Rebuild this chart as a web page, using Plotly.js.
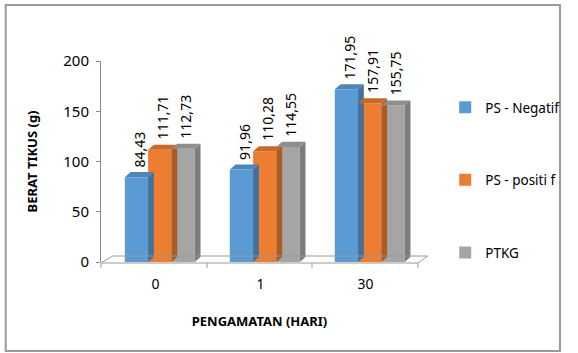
<!DOCTYPE html>
<html><head><meta charset="utf-8">
<script src="https://cdn.plot.ly/plotly-3.0.1.min.js"></script>
<style>html,body{margin:0;padding:0;background:#fff}#c{width:578px;height:353px}</style>
</head><body><div id="c"></div>
<script>
const categories = ['0', '1', '30'];
const seriesNames = ['PS - Negatif', 'PS - positi f', 'PTKG'];
const psNegatif = [84.43, 91.96, 171.95];
const psPositif = [111.71, 110.28, 157.91];
const ptkg = [112.73, 114.55, 155.75];
const yTicks = [0, 50, 100, 150, 200];

const series = [psNegatif, psPositif, ptkg];
const front = ['#5B9BD5', '#ED7D31', '#A5A5A5'];
const side = ['#41719C', '#AE5A21', '#7C7C7C'];
const topc = ['#4F86B9', '#C8692A', '#8E8E8E'];
const fmt = v => v.toFixed(2).replace('.', ',');
const xs = categories.map((c, i) => i);
const bw = 0.222;
const shift = 0.04;
const dx = 0.055, dy = 5;

const traces = [];
const annotations = [];
series.forEach((vals, s) => {
  traces.push({
    type: 'bar', x: xs, y: vals, name: seriesNames[s], legendgroup: 'g' + s,
    width: bw, offset: (s - 1.5) * bw + shift,
    marker: {color: front[s]}, hoverinfo: 'skip'
  });
});
// depth faces and labels derived from data
series.forEach((vals, s) => {
  vals.forEach((v, i) => {
    const c = i + (s - 1) * bw + shift;
    const l = c - bw / 2, r = c + bw / 2;
    traces.push({type: 'scatter', mode: 'lines', fill: 'toself', showlegend: false, hoverinfo: 'skip',
      x: [r, r + dx, r + dx, r, r], y: [0, dy, v + dy, v, 0],
      line: {width: 0}, fillcolor: side[s]});
    traces.push({type: 'scatter', mode: 'lines', fill: 'toself', showlegend: false, hoverinfo: 'skip',
      x: [l, l + dx, r + dx, r, l], y: [v, v + dy, v + dy, v, v],
      line: {width: 0}, fillcolor: topc[s]});
    annotations.push({x: c + dx / 2, y: v + dy, xref: 'x', yref: 'y', text: fmt(vals[i]),
      showarrow: false, textangle: -90, yanchor: 'bottom', xanchor: 'center', yshift: 3,
      font: {family: 'Noto Sans, sans-serif', size: 14, color: '#000'}});
  });
});

const L = 101, R = 427, T = 61, B = 262;
const px = x => (x - L) / (R - L);
const py = y => (B - y) / (B - T);

const layout = {
  width: 578, height: 353,
  margin: {l: L, r: 578 - R, t: T, b: 353 - B},
  paper_bgcolor: '#fff', plot_bgcolor: 'rgba(0,0,0,0)',
  barmode: 'overlay',
  showlegend: true,
  font: {family: 'Noto Sans, sans-serif', color: '#000'},
  xaxis: {range: [-0.52, 2.5], tickvals: xs, ticktext: categories, ticks: '',
    showline: false, zeroline: false, showgrid: false,
    tickfont: {size: 14}, ticklabelstandoff: 12,
    title: {text: 'PENGAMATAN (HARI)', font: {size: 13, weight: 'bold'}, standoff: 24}},
  yaxis: {range: [0, 200], tickvals: yTicks, ticks: 'outside', ticklen: 4, tickcolor: '#888',
    showline: true, linecolor: '#888', zeroline: false, showgrid: false,
    tickfont: {size: 15}, ticklabelstandoff: 4,
    title: {text: 'BERAT TIKUS (g)', font: {size: 13, weight: 'bold'}, standoff: 22}},
  legend: {x: px(455), y: py(92), xanchor: 'left', yanchor: 'top', tracegroupgap: 52,
    font: {size: 13.5}, itemwidth: 30, bgcolor: 'rgba(0,0,0,0)'},
  annotations: annotations,
  shapes: [
    // floor
    {type: 'line', xref: 'paper', yref: 'paper', x0: px(101), y0: py(263), x1: px(427), y1: py(263), line: {color: '#999', width: 1}},
    {type: 'line', xref: 'paper', yref: 'paper', x0: px(101), y0: py(263), x1: px(113), y1: py(256), line: {color: '#999', width: 1}},
    {type: 'line', xref: 'paper', yref: 'paper', x0: px(113), y0: py(256), x1: px(437), y1: py(256), line: {color: '#999', width: 1}},
    {type: 'line', xref: 'paper', yref: 'paper', x0: px(427), y0: py(263), x1: px(437), y1: py(256), line: {color: '#999', width: 1}},
    // x boundary ticks
    ...[101, 210, 318, 427].map(x => ({type: 'line', xref: 'paper', yref: 'paper', x0: px(x), y0: py(263), x1: px(x), y1: py(268), line: {color: '#999', width: 1}})),
    // outer border
    {type: 'rect', xref: 'paper', yref: 'paper', x0: px(3), y0: py(5), x1: px(573), y1: py(351), line: {color: '#9a9a9a', width: 2}}
  ]
};
Plotly.newPlot('c', traces, layout, {displayModeBar: false, staticPlot: true});
</script></body></html>
